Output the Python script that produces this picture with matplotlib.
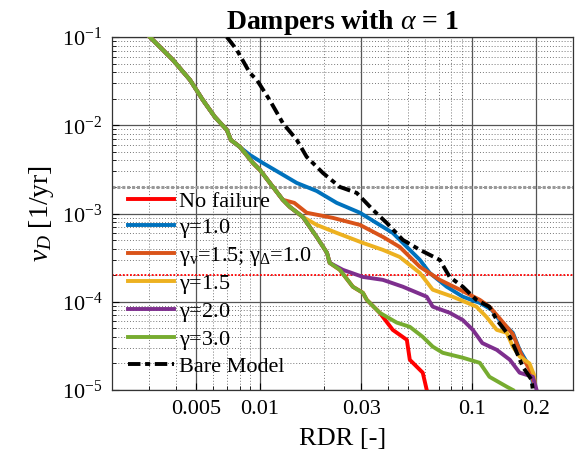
import numpy as np
import matplotlib
matplotlib.use("Agg")
import matplotlib.pyplot as plt
from matplotlib.ticker import FixedLocator, FixedFormatter, LogLocator, NullFormatter

plt.rcParams['font.family'] = ['Liberation Serif', 'DejaVu Serif']
plt.rcParams['mathtext.fontset'] = 'custom'
plt.rcParams['mathtext.rm'] = 'Liberation Serif'
plt.rcParams['mathtext.it'] = 'Liberation Serif:italic'
plt.rcParams['mathtext.bf'] = 'Liberation Serif:bold'

# curves share their first part, then split off one by one
seg_all_rdr = [0.00302, 0.00388, 0.00467, 0.00537, 0.00612, 0.00697, 0.00728]
seg_all_rate = [0.1, 0.0549, 0.0326, 0.0193, 0.0124, 0.00885, 0.0068]
seg_five_rdr = [0.00804, 0.00925, 0.00998, 0.0115, 0.0128]
seg_five_rate = [0.00568, 0.00374, 0.00312, 0.0020, 0.00143]
seg_four_rdr = [0.0138, 0.0159]
seg_four_rate = [0.00119, 0.000916]
seg_three_rdr = [0.0185, 0.0207, 0.0213]
seg_three_rate = [0.000543, 0.000358, 0.000276]
seg_two_rdr = [0.0238, 0.0274, 0.0306, 0.0319]
seg_two_rate = [0.00023, 0.000148, 0.000126, 0.000105]

blue_rdr = [0.00895, 0.0103, 0.0124, 0.0149, 0.0185, 0.023, 0.0296, 0.038, 0.0423,
            0.0493, 0.0568, 0.0632, 0.076, 0.0906, 0.109, 0.124, 0.135, 0.156,
            0.168, 0.187, 0.194]
blue_rate = [0.00461, 0.00374, 0.00288, 0.00222, 0.0018, 0.00132, 0.00102, 0.000705,
             0.000603, 0.000418, 0.000298, 0.000212, 0.000148, 0.000114, 9.7e-5,
             8.1e-5, 6.2e-5, 4.45e-5, 2.85e-5, 1.83e-5, 1.2e-5]
orange_rdr = [0.0145, 0.0166, 0.0221, 0.0296, 0.038, 0.0456, 0.0568, 0.0705, 0.0877,
              0.109, 0.121, 0.135, 0.156, 0.17, 0.187, 0.195]
orange_rate = [0.00132, 0.00102, 0.000891, 0.000743, 0.000543, 0.000418, 0.000249,
               0.000177, 0.000137, 0.000105, 8.8e-5, 6.5e-5, 4.3e-5, 2.6e-5, 1.7e-5,
               1.25e-5]
yellow_rdr = [0.0185, 0.023, 0.0306, 0.038, 0.0456, 0.0568, 0.0653, 0.0811, 0.105,
              0.117, 0.131, 0.146, 0.156, 0.168, 0.187, 0.196, 0.198]
yellow_rate = [0.000743, 0.000603, 0.000464, 0.000387, 0.000322, 0.000212, 0.000137,
               0.000114, 8.8e-5, 6.75e-5, 4.8e-5, 4.45e-5, 3.1e-5, 2.4e-5, 2.0e-5,
               1.5e-5, 1.2e-5]
purple_rdr = [0.0246, 0.0306, 0.038, 0.0472, 0.0612, 0.0653, 0.0785, 0.0906, 0.101,
              0.112, 0.131, 0.151, 0.168, 0.194, 0.202]
purple_rate = [0.00023, 0.000191, 0.000177, 0.000148, 0.000114, 8.8e-5, 7.5e-5, 6.2e-5,
               4.8e-5, 3.4e-5, 2.85e-5, 2.2e-5, 1.57e-5, 1.41e-5, 1.0e-5]
red_rdr = [0.0367, 0.0423, 0.0493, 0.0509, 0.0586, 0.0612]
red_rate = [7.5e-5, 4.8e-5, 3.7e-5, 2.2e-5, 1.57e-5, 1.0e-5]
green_rdr = [0.0367, 0.0442, 0.0509, 0.0586, 0.0653, 0.0728, 0.0906, 0.109, 0.121,
             0.146, 0.156]
green_rate = [7.5e-5, 5.8e-5, 5.2e-5, 4.0e-5, 3.1e-5, 2.64e-5, 2.32e-5, 2.03e-5,
              1.41e-5, 1.09e-5, 1.0e-5]
bare_rdr = [0.00697, 0.00777, 0.00895, 0.00966, 0.0111, 0.0128, 0.0149, 0.0166, 0.0198,
            0.0238, 0.0286, 0.0341, 0.0396, 0.0472, 0.0568, 0.0705, 0.0785, 0.0906,
            0.105, 0.121, 0.131, 0.151, 0.163, 0.174, 0.191, 0.194]
bare_rate = [0.1, 0.0713, 0.0391, 0.0326, 0.0193, 0.0106, 0.00682, 0.00438, 0.00288,
             0.0020, 0.00171, 0.0011, 0.000783, 0.000502, 0.000387, 0.000298, 0.000191,
             0.000148, 0.000105, 8.76e-5, 6.24e-5, 4.01e-5, 2.64e-5, 1.83e-5, 1.31e-5,
             1.0e-5]

limit_rates = [2e-3, 2e-4]
x_ticks = [0.005, 0.01, 0.03, 0.1, 0.2]
x_ticklabels = ['0.005', '0.01', '0.03', '0.1', '0.2']

labels = ['No failure', r'$\mathrm{\gamma}$=1.0',
          r'$\mathrm{\gamma_v}$=1.5; $\mathrm{\gamma_\Delta}$=1.0',
          r'$\mathrm{\gamma}$=1.5', r'$\mathrm{\gamma}$=2.0', r'$\mathrm{\gamma}$=3.0',
          'Bare Model']
colors = ['#ff0000', '#0072bd', '#d95319', '#edb120', '#7e2f8e', '#77ac30', 'k']

a5 = seg_all_rdr + seg_five_rdr
r5 = seg_all_rate + seg_five_rate
a4 = a5 + seg_four_rdr
r4 = r5 + seg_four_rate
a3 = a4 + seg_three_rdr
r3 = r4 + seg_three_rate
a2 = a3 + seg_two_rdr
r2 = r3 + seg_two_rate

series = [
    (a2 + red_rdr, r2 + red_rate),
    (seg_all_rdr + blue_rdr, seg_all_rate + blue_rate),
    (a5 + orange_rdr, r5 + orange_rate),
    (a4 + yellow_rdr, r4 + yellow_rate),
    (a3 + purple_rdr, r3 + purple_rate),
    (a2 + green_rdr, r2 + green_rate),
]

fig = plt.figure(figsize=(5.75, 4.68), dpi=100)
ax = fig.add_axes([0.1948, 0.1667, 0.8017, 0.7542])

ax.axhline(limit_rates[0], color='#999999', lw=2.2, ls=(0, (1, 0.6)), zorder=1)
ax.axhline(limit_rates[1], color='#ff0000', lw=1.3, ls=(0, (1, 1)), zorder=1)

for (xs, ys), c, lab in zip(series, colors[:-1], labels[:-1]):
    ax.plot(xs, ys, color=c, lw=2.8, label=lab, zorder=3)
ax.plot(bare_rdr, bare_rate, color='k', lw=2.8, ls=(0, (3.2, 1.2, 1.3, 1.2)),
        label=labels[-1], zorder=4)

ax.set_xscale('log')
ax.set_yscale('log')
ax.set_xlim(0.002, 0.3)
ax.set_ylim(1e-5, 1e-1)

ax.xaxis.set_major_locator(FixedLocator(x_ticks))
ax.xaxis.set_major_formatter(FixedFormatter(x_ticklabels))
ax.xaxis.set_minor_locator(LogLocator(base=10, subs=np.arange(2, 10)))
ax.xaxis.set_minor_formatter(NullFormatter())
ax.yaxis.set_minor_locator(LogLocator(base=10, subs=np.arange(2, 10)))
ax.yaxis.set_minor_formatter(NullFormatter())

ax.grid(True, which='major', color='#555555', lw=0.9, ls='-')
ax.grid(True, which='minor', color='#777777', lw=0.7, ls=(0, (1, 2)))
ax.set_axisbelow(True)

ax.tick_params(which='both', direction='in', labelsize=16, top=False, right=False)
ax.tick_params(which='major', length=5, pad=7)
ax.tick_params(which='minor', length=3)
for s in ax.spines.values():
    s.set_color('#333333')
    s.set_linewidth(0.9)

ax.set_xlabel('RDR [-]', fontsize=19, labelpad=7)
ax.set_ylabel(r'$\mathit{\nu}_{\mathit{D}}$ [1/yr]', fontsize=20, labelpad=4)
ax.set_title(r'Dampers with $\mathit{\alpha}$ = 1', fontsize=20, fontweight='bold',
             pad=4)

ax.legend(loc='upper left', bbox_to_anchor=(0.035, 0.562), frameon=False, fontsize=16,
          handlelength=2.05, handletextpad=0.23, labelspacing=0.22, borderpad=0,
          borderaxespad=0)

fig.savefig('out.png', dpi=100)
